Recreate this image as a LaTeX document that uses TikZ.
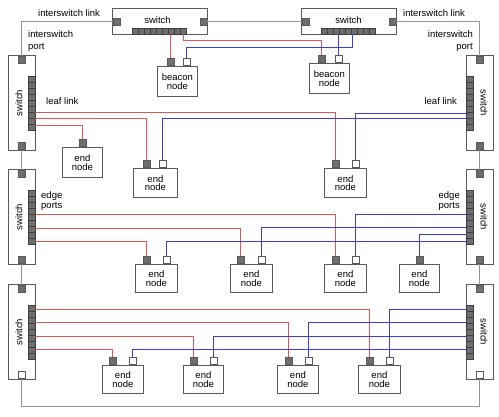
\documentclass[tikz,border=0pt]{standalone}
\usepackage{fontspec}
\setmainfont{Liberation Sans}
\definecolor{redc}{RGB}{225,85,85}
\definecolor{bluec}{RGB}{60,60,215}
\definecolor{grayc}{RGB}{150,150,150}
\definecolor{boxc}{RGB}{90,90,90}
\definecolor{portc}{RGB}{110,110,110}
\begin{document}
\begin{tikzpicture}[x=1pt,y=-1pt,
  every node/.style={font=\fontsize{9.5}{8.5}\selectfont},
  box/.style={draw=boxc,line width=0.8pt,fill=white,inner sep=0pt,anchor=north west},
  dport/.style={draw=boxc,fill=portc,minimum size=7pt,inner sep=0pt,line width=0.6pt},
  wport/.style={draw=boxc,fill=white,minimum size=7pt,inner sep=0pt,line width=0.6pt},
  cell/.style={draw=boxc!70!black,fill=portc,line width=0.5pt},
  strip/.style={inner sep=0pt,anchor=north west},
  rl/.style={draw=redc,line width=1pt},
  bl/.style={draw=bluec,line width=1pt},
  gl/.style={draw=grayc,line width=1pt},
  lbl/.style={inner sep=0pt}
]
\useasboundingbox (0,0) rectangle (499,416);
\fill[white] (0,0) rectangle (499,416);

% top switches
\node[box,minimum width=95pt,minimum height=26pt] (ts1) at (112,8) {};
\node[lbl] (ts1t) at (157.5,20) {switch};
\node[dport] (ts1l) at (116.5,21.5) {};
\node[dport] (ts1r) at (203.5,21.5) {};
\node[strip,minimum width=54pt,minimum height=6pt] (ts1p) at (132,28) {};
\foreach \k in {0,...,8} \draw[cell] ({132+6*\k},28) rectangle ++(6,6);

\node[box,minimum width=95pt,minimum height=26pt] (ts2) at (301,8) {};
\node[lbl] (ts2t) at (348.5,20) {switch};
\node[dport] (ts2l) at (305.5,21.5) {};
\node[dport] (ts2r) at (392.5,21.5) {};
\node[strip,minimum width=54pt,minimum height=6pt] (ts2p) at (321,28) {};
\foreach \k in {0,...,8} \draw[cell] ({321+6*\k},28) rectangle ++(6,6);

% beacon nodes
\node[box,minimum width=40pt,minimum height=30pt,align=center] (bL) at (157,66) {beacon\\node};
\node[dport,anchor=south] (bLd) at (170.5,66) {};
\node[wport,anchor=south] (bLw) at (186.5,66) {};
\node[box,minimum width=40pt,minimum height=30pt,align=center] (bR) at (309,63) {beacon\\node};
\node[dport,anchor=south] (bRd) at (321.5,63) {};
\node[wport,anchor=south] (bRw) at (338.5,63) {};

% side switches
\foreach \t/\n/\bs in {55/1/dport,169/2/dport,284/3/wport}{
  \node[box,minimum width=27pt,minimum height=95pt] (ls\n) at (8,\t) {};
  \node[lbl,rotate=90] (lsl\n) at (19,{\t+48}) {switch};
  \node[dport,anchor=north] (lst\n) at (21.5,{\t+1}) {};
  \node[\bs,anchor=south] (lsb\n) at (21.5,{\t+95}) {};
  \node[strip,minimum width=7pt,minimum height=54pt] (lsp\n) at (28,{\t+21}) {};
  \foreach \k in {0,...,8} \draw[cell] (28,{\t+21+6*\k}) rectangle ++(7,6);
  \node[box,minimum width=27pt,minimum height=95pt] (rs\n) at (466,\t) {};
  \node[lbl,rotate=-90] (rsl\n) at (484,{\t+48}) {switch};
  \node[dport,anchor=north] (rst\n) at (479.5,{\t+1}) {};
  \node[\bs,anchor=south] (rsb\n) at (479.5,{\t+95}) {};
  \node[strip,minimum width=7pt,minimum height=54pt] (rsp\n) at (466,{\t+21}) {};
  \foreach \k in {0,...,8} \draw[cell] (466,{\t+21+6*\k}) rectangle ++(7,6);
}

% end nodes row 1
\node[box,minimum width=40pt,minimum height=30pt,align=center] (eA) at (62,147) {end\\node};
\node[dport,anchor=south] (eAd) at (82.5,147) {};
\node[box,minimum width=44pt,minimum height=29pt,align=center] (eB) at (133,168) {end\\node};
\node[dport,anchor=south] (eBd) at (146.5,168) {};
\node[wport,anchor=south] (eBw) at (162.5,168) {};
\node[box,minimum width=42pt,minimum height=29pt,align=center] (eC) at (324,168) {end\\node};
\node[dport,anchor=south] (eCd) at (335.5,168) {};
\node[wport,anchor=south] (eCw) at (355.5,168) {};

% end nodes row 2
\node[box,minimum width=42pt,minimum height=28pt,align=center] (f1) at (135,264) {end\\node};
\node[dport,anchor=south] (f1d) at (146.5,264) {};
\node[wport,anchor=south] (f1w) at (166.5,264) {};
\node[box,minimum width=42pt,minimum height=28pt,align=center] (f2) at (230,264) {end\\node};
\node[dport,anchor=south] (f2d) at (240.5,264) {};
\node[wport,anchor=south] (f2w) at (261.5,264) {};
\node[box,minimum width=42pt,minimum height=28pt,align=center] (f3) at (324,264) {end\\node};
\node[dport,anchor=south] (f3d) at (335.5,264) {};
\node[wport,anchor=south] (f3w) at (355.5,264) {};
\node[box,minimum width=40pt,minimum height=28pt,align=center] (f4) at (399,264) {end\\node};
\node[dport,anchor=south] (f4d) at (419.5,264) {};

% end nodes row 3
\node[box,minimum width=41pt,minimum height=28pt,align=center] (g1) at (102,365) {end\\node};
\node[dport,anchor=south] (g1d) at (112.5,365) {};
\node[wport,anchor=south] (g1w) at (132.5,365) {};
\node[box,minimum width=40pt,minimum height=28pt,align=center] (g2) at (183,365) {end\\node};
\node[dport,anchor=south] (g2d) at (193.5,365) {};
\node[wport,anchor=south] (g2w) at (213.5,365) {};
\node[box,minimum width=41pt,minimum height=28pt,align=center] (g3) at (277,365) {end\\node};
\node[dport,anchor=south] (g3d) at (288.5,365) {};
\node[wport,anchor=south] (g3w) at (308.5,365) {};
\node[box,minimum width=42pt,minimum height=28pt,align=center] (g4) at (358,365) {end\\node};
\node[dport,anchor=south] (g4d) at (369.5,365) {};
\node[wport,anchor=south] (g4w) at (389.5,365) {};

% labels
\node[lbl,anchor=west] (isl1) at (38,13) {interswitch link};
\node[lbl,anchor=west] (isl2) at (403,13) {interswitch link};
\node[lbl,anchor=west,align=left] (isp1) at (28,41) {interswitch\\[3.5pt]port};
\node[lbl,anchor=east,align=right] (isp2) at (473,41) {interswitch\\[3.5pt]port};
\node[lbl,anchor=west] (ll1) at (46,101) {leaf link};
\node[lbl,anchor=east] (ll2) at (457,101) {leaf link};
\node[lbl,anchor=west,align=left] (ep1) at (41,201) {edge\\[1.5pt]ports};
\node[lbl,anchor=east,align=right] (ep2) at (460,201) {edge\\[1.5pt]ports};

% interswitch links
\draw[gl] (ts1l.west) -| (lst1.north)
  (ts1r.east) -- (ts2l.west)
  (ts2r.east) -| (rst1.north)
  (lsb1.south) -- (lst2.north)
  (lsb2.south) -- (lst3.north)
  (rsb1.south) -- (rst2.north)
  (rsb2.south) -- (rst3.north)
  (lsb3.south) -- ++(0,27) -| (rsb3.south);

% red connectors (leaf links to dark ports)
\draw[rl] (bLd.north |- ts1p.south) -- (bLd.north)
  (ts1p.south -| 183.5,0) -- ++(0,6) -| (bRd.north)
  (lsp1.east |- 0,112.5) -| (eCd.north)
  (lsp1.east |- 0,118.5) -| (eBd.north)
  (lsp1.east |- 0,125.5) -| (eAd.north)
  (lsp2.east |- 0,214.5) -| (f3d.north)
  (lsp2.east |- 0,228.5) -| (f2d.north)
  (lsp2.east |- 0,241.5) -| (f1d.north)
  (lsp3.east |- 0,309.5) -| (g4d.north)
  (lsp3.east |- 0,322.5) -| (g3d.north)
  (lsp3.east |- 0,336.5) -| (g2d.north)
  (lsp3.east |- 0,349.5) -| (g1d.north);

% blue connectors
\draw[bl] (bLw.north) -- ++(0,-11) -| (ts2p.south -| 352.5,0)
  (bRw.north |- ts2p.south) -- (bRw.north)
  (rsp1.west |- 0,113.5) -| (eCw.north)
  (rsp1.west |- 0,118.5) -| (eBw.north)
  (rsp2.west |- 0,214.5) -| (f3w.north)
  (rsp2.west |- 0,227.5) -| (f2w.north)
  (rsp2.west |- 0,234.5) -| (f4d.north)
  (rsp2.west |- 0,241.5) -| (f1w.north)
  (rsp3.west |- 0,309.5) -| (g4w.north)
  (rsp3.west |- 0,322.5) -| (g3w.north)
  (rsp3.west |- 0,336.5) -| (g2w.north)
  (rsp3.west |- 0,349.5) -| (g1w.north);
\end{tikzpicture}
\end{document}
